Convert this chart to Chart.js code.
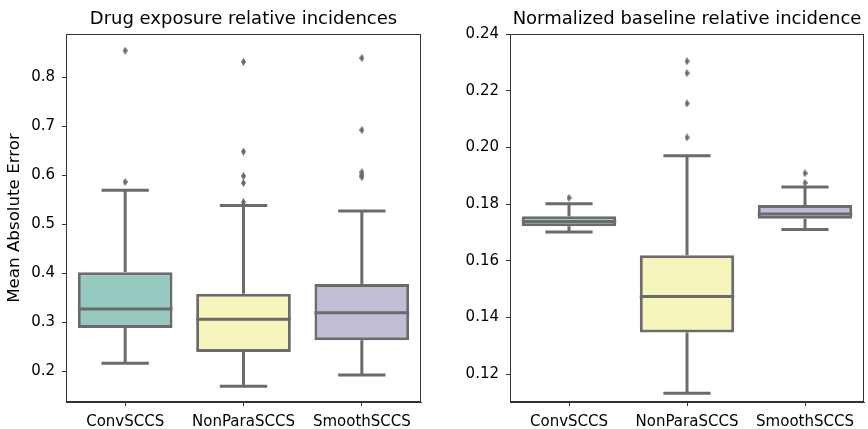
<!DOCTYPE html>
<html>
<head>
<meta charset="utf-8">
<script src="https://cdn.jsdelivr.net/npm/chart.js@4/dist/chart.umd.min.js"></script>
<style>
  html, body { margin:0; padding:0; background:#fff; }
  #wrap { position:relative; width:868px; height:429px; overflow:hidden; }
  canvas { position:absolute; top:0; }
  #left { left:0; }
  #right { left:434px; }
</style>
</head>
<body>
<div id="wrap">
  <canvas id="left" width="434" height="429"></canvas>
  <canvas id="right" width="434" height="429"></canvas>
</div>
<script>
// categories
const categories = ['ConvSCCS', 'NonParaSCCS', 'SmoothSCCS'];
const boxColors = ['#96cac1', '#f6f6bc', '#c1bdd7'];

// left panel: drug exposure relative incidences
const drugLow = [0.216, 0.169, 0.192];
const drugQ1 = [0.288, 0.239, 0.263];
const drugMedian = [0.327, 0.306, 0.319];
const drugQ3 = [0.402, 0.358, 0.378];
const drugHigh = [0.569, 0.538, 0.527];
const drugOutliers = [
  [0.854, 0.586],
  [0.831, 0.648, 0.598, 0.584, 0.545],
  [0.839, 0.692, 0.606, 0.600, 0.596]
];
const drugTicks = [0.2, 0.3, 0.4, 0.5, 0.6, 0.7, 0.8];

// right panel: normalized baseline relative incidence
const baseLow = [0.1702, 0.1133, 0.1710];
const baseQ1 = [0.1722, 0.1347, 0.1748];
const baseMedian = [0.1739, 0.1474, 0.1765];
const baseQ3 = [0.1757, 0.1620, 0.1797];
const baseHigh = [0.1801, 0.1971, 0.1860];
const baseOutliers = [
  [0.1822],
  [0.2304, 0.2262, 0.2155, 0.2035],
  [0.1909, 0.1875]
];
const baseTicks = [0.12, 0.14, 0.16, 0.18, 0.20, 0.22, 0.24];

const LINE = '#6b6b6b';
const SPINE = '#333333';
const FONT = 'DejaVu Sans';

// thin diamond marker like matplotlib 'd'
const diamond = document.createElement('canvas');
diamond.width = 5; diamond.height = 8;
(function(){
  const c = diamond.getContext('2d');
  c.fillStyle = LINE;
  c.beginPath();
  c.moveTo(2.5, 0); c.lineTo(5, 4); c.lineTo(2.5, 8); c.lineTo(0, 4);
  c.closePath(); c.fill();
})();

// whiskers, caps, median + full frame
const boxPlugin = {
  id: 'boxPlugin',
  afterDatasetsDraw(chart, args, opts) {
    const ctx = chart.ctx, y = chart.scales.y;
    const meta = chart.getDatasetMeta(0);
    ctx.save();
    ctx.strokeStyle = LINE;
    ctx.lineWidth = 3;
    ctx.lineCap = 'butt';
    meta.data.forEach((bar, i) => {
      const half = bar.width / 2;
      const x = bar.x;
      const line = (x1, y1, x2, y2) => { ctx.beginPath(); ctx.moveTo(x1, y1); ctx.lineTo(x2, y2); ctx.stroke(); };
      const pq1 = y.getPixelForValue(opts.q1[i]);
      const pq3 = y.getPixelForValue(opts.q3[i]);
      const plo = y.getPixelForValue(opts.low[i]);
      const phi = y.getPixelForValue(opts.high[i]);
      const pmed = y.getPixelForValue(opts.median[i]);
      line(x, pq3, x, phi);
      line(x, pq1, x, plo);
      line(x - half / 2, phi, x + half / 2, phi);
      line(x - half / 2, plo, x + half / 2, plo);
      line(x - half, pmed, x + half, pmed);
    });
    const a = chart.chartArea;
    ctx.strokeStyle = SPINE;
    ctx.lineWidth = 1;
    ctx.strokeRect(a.left + 0.5, a.top + 0.5, a.right - a.left - 1, a.bottom - a.top - 1);
    ctx.restore();
  }
};

function makeBox(id, title, low, q1, median, q3, high, outliers, ticks, digits, yMin, yMax, yWidth, rightPad, yTitle) {
  const outlierPoints = [];
  outliers.forEach((list, i) => list.forEach(v => outlierPoints.push({x: categories[i], y: v})));
  return new Chart(document.getElementById(id), {
    type: 'bar',
    data: {
      labels: categories,
      datasets: [
        {
          data: q1.map((v, i) => [v, q3[i]]),
          backgroundColor: boxColors,
          borderColor: LINE,
          borderWidth: 3,
          borderSkipped: false,
          categoryPercentage: 0.8,
          barPercentage: 1.0
        },
        {
          type: 'line',
          data: outlierPoints,
          showLine: false,
          pointStyle: diamond,
          pointRadius: 3,
          pointHoverRadius: 3
        }
      ]
    },
    options: {
      responsive: false,
      animation: false,
      events: [],
      layout: { padding: { top: 0, right: rightPad, bottom: 0, left: 0 } },
      plugins: {
        legend: { display: false },
        tooltip: { enabled: false },
        title: {
          display: true, text: title, color: '#000', fullSize: false,
          font: { family: FONT, size: 18, weight: 'normal' },
          padding: { top: 9, bottom: 3.4 }
        },
        boxPlugin: { low, q1, median, q3, high }
      },
      scales: {
        x: {
          grid: { display: true, drawOnChartArea: false, drawTicks: true, tickLength: 4, color: SPINE, offset: false },
          border: { display: true, color: SPINE },
          ticks: { color: '#000', font: { family: FONT, size: 15 }, padding: 7, maxRotation: 0 },
          afterFit: s => { s.height = 27; }
        },
        y: {
          min: yMin, max: yMax,
          grid: { display: true, drawOnChartArea: false, drawTicks: true, tickLength: 4, color: SPINE },
          border: { display: true, color: SPINE },
          afterBuildTicks: s => { s.ticks = ticks.map(v => ({ value: v })); },
          ticks: { color: '#000', font: { family: FONT, size: 15 }, padding: 7,
                   callback: v => Number(v).toFixed(digits) },
          title: { display: !!yTitle, text: yTitle || '', color: '#000',
                   font: { family: FONT, size: 16.7 }, padding: { top: 5, bottom: 4 } },
          afterFit: s => { s.width = yWidth; }
        }
      }
    },
    plugins: [boxPlugin]
  });
}

makeBox('left', 'Drug exposure relative incidences',
  drugLow, drugQ1, drugMedian, drugQ3, drugHigh, drugOutliers, drugTicks, 1,
  0.137, 0.888, 66, 13, 'Mean Absolute Error');
makeBox('right', 'Normalized baseline relative incidence',
  baseLow, baseQ1, baseMedian, baseQ3, baseHigh, baseOutliers, baseTicks, 2,
  0.1102, 0.24, 76, 2, '');
</script>
</body>
</html>
